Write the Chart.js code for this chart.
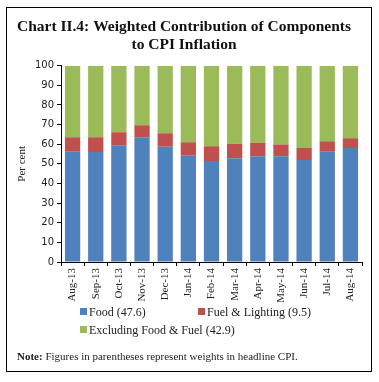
<!DOCTYPE html>
<html>
<head>
<meta charset="utf-8">
<script src="https://cdn.jsdelivr.net/npm/chart.js@4/dist/chart.umd.min.js"></script>
<style>
  html, body { margin: 0; padding: 0; background: #fff; }
  #wrap { position: relative; width: 379px; height: 382px; overflow: hidden; }
  #c { position: absolute; left: 0; top: 0; }
  #frame { position: absolute; left: 6px; top: 7px; width: 364px; height: 363px; border: 1.5px solid #000; pointer-events: none; }
  .leg { position: absolute; font: 12px "Liberation Serif", serif; color: #222; white-space: nowrap; }
  .sw { display: inline-block; width: 7px; height: 7px; margin-right: 2px; vertical-align: 1px; }
  #note { position: absolute; left: 17px; top: 350px; font: 11px "Liberation Serif", serif; color: #222; white-space: nowrap; }
</style>
</head>
<body>
<div id="wrap">
  <canvas id="c" width="379" height="382"></canvas>
  <div id="frame"></div>
  <div id="legend"></div>
  <div id="note"><b>Note:</b> Figures in parentheses represent weights in headline CPI.</div>
</div>
<script>
const categories = ["Aug-13","Sep-13","Oct-13","Nov-13","Dec-13","Jan-14","Feb-14","Mar-14","Apr-14","May-14","Jun-14","Jul-14","Aug-14"];
const food      = [56.1, 56.0, 59.5, 63.5, 58.7, 54.1, 51.4, 52.9, 53.9, 53.9, 51.9, 56.1, 58.0];
const fuel      = [7.4, 7.5, 6.6, 6.1, 6.9, 6.9, 7.6, 7.3, 6.8, 5.9, 6.1, 5.4, 5.0];
const excluding = [36.5, 36.5, 33.9, 30.4, 34.4, 39.0, 41.0, 39.8, 39.3, 40.2, 42.0, 38.5, 37.0];
const seriesNames = ["Food (47.6)", "Fuel & Lighting (9.5)", "Excluding Food & Fuel (42.9)"];
const yTicks = [0,10,20,30,40,50,60,70,80,90,100];
const colors = ["#4F81BD", "#C0504D", "#9BBB59"];

const serif = '"Liberation Serif", serif';
const chart = new Chart(document.getElementById('c'), {
  type: 'bar',
  data: {
    labels: categories,
    datasets: [
      { label: seriesNames[0], data: food, backgroundColor: colors[0] },
      { label: seriesNames[1], data: fuel, backgroundColor: colors[1] },
      { label: seriesNames[2], data: excluding, backgroundColor: colors[2] }
    ]
  },
  options: {
    responsive: false,
    animation: false,
    devicePixelRatio: 1,
    layout: { padding: { left: 6, right: 17, top: 7, bottom: 70 } },
    datasets: { bar: { categoryPercentage: 1, barPercentage: 0.66 } },
    plugins: {
      legend: { display: false },
      tooltip: { enabled: false },
      title: {
        display: true,
        text: ["Chart II.4: Weighted Contribution of Components", "to CPI Inflation"],
        font: { family: serif, size: 15.5, weight: 'bold', lineHeight: 1.15 },
        color: '#111',
        padding: { top: 11, bottom: 12 }
      }
    },
    scales: {
      x: {
        stacked: true,
        border: { color: '#000', width: 1 },
        grid: { display: true, drawOnChartArea: false, drawTicks: true, tickLength: 4, color: '#000', offset: true },
        ticks: { minRotation: 90, maxRotation: 90, autoSkip: false, font: { family: serif, size: 11 }, color: '#222', padding: 2 },
        afterFit: s => { s.height = 50; }
      },
      y: {
        stacked: true,
        min: 0, max: 100,
        afterBuildTicks: s => { s.ticks = yTicks.map(v => ({ value: v })); },
        border: { color: '#000', width: 1 },
        grid: { display: true, drawOnChartArea: false, drawTicks: true, tickLength: 4, color: '#000' },
        ticks: { font: { family: '"DejaVu Sans", sans-serif', size: 10 }, color: '#222', padding: 3 },
        title: { display: true, text: 'Per cent', font: { family: serif, size: 11 }, color: '#222', padding: { top: 10, bottom: 0 } },
        afterFit: s => { s.width = 55; }
      }
    }
  }
});

// HTML legend built from the datasets
const legendPos = [[80, 305], [198, 305], [80, 323]];
const lg = document.getElementById('legend');
chart.data.datasets.forEach((ds, i) => {
  const d = document.createElement('div');
  d.className = 'leg';
  d.style.left = legendPos[i][0] + 'px';
  d.style.top = legendPos[i][1] + 'px';
  d.innerHTML = '<span class="sw" style="background:' + ds.backgroundColor + '"></span>';
  d.appendChild(document.createTextNode(ds.label));
  lg.appendChild(d);
});
</script>
</body>
</html>
